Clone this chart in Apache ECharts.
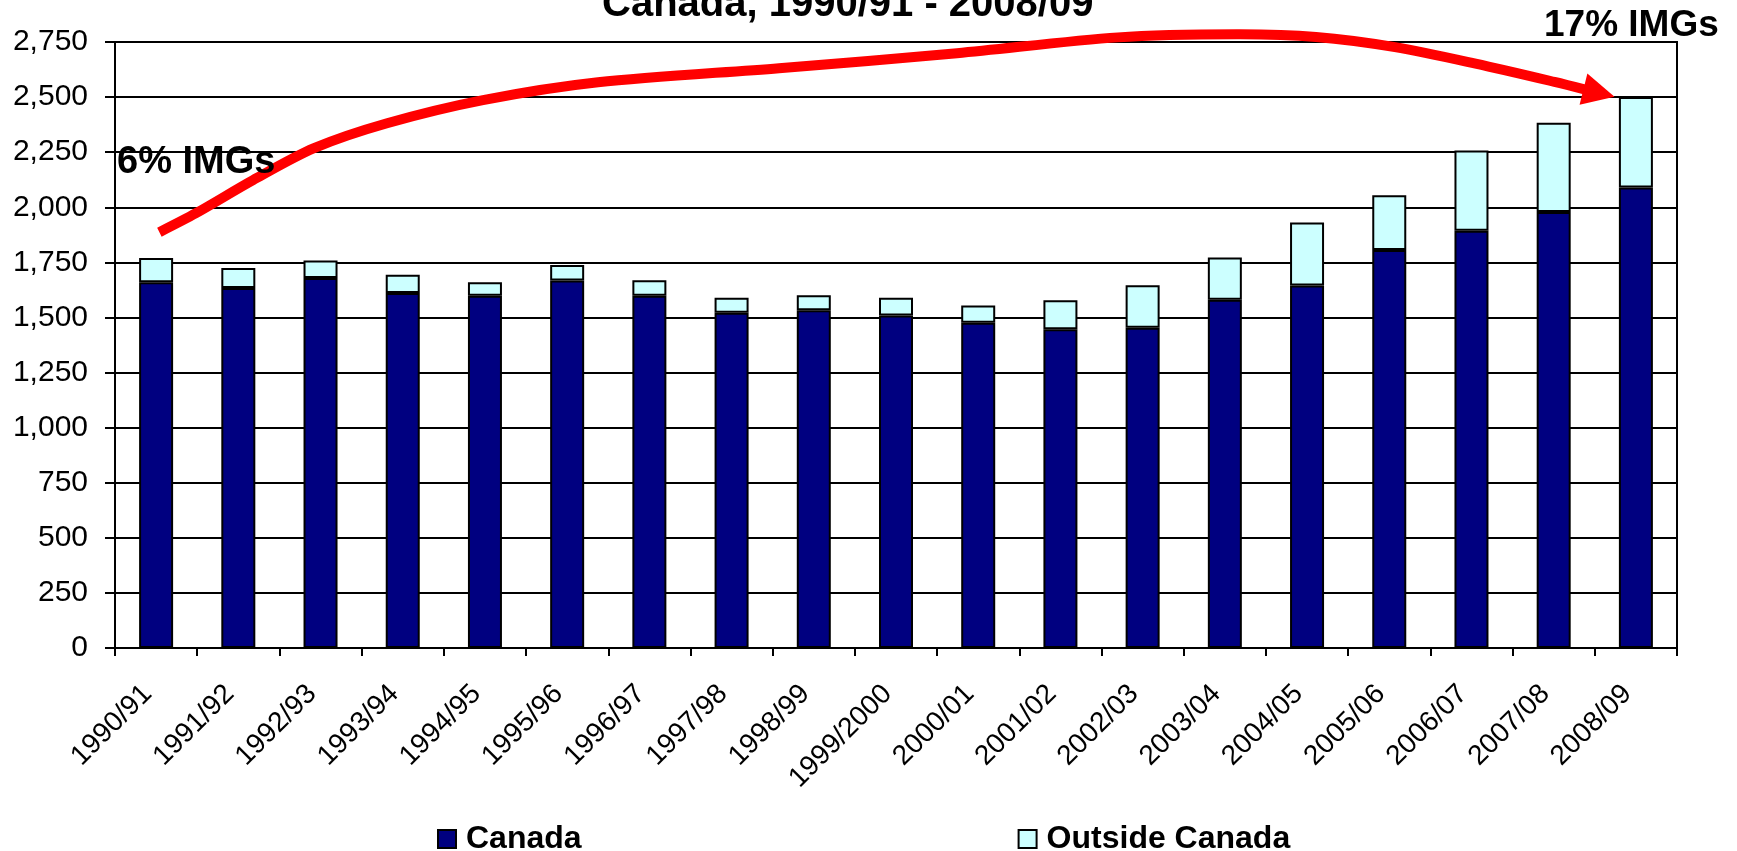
<!DOCTYPE html>
<html>
<head>
<meta charset="utf-8">
<script src="https://cdn.jsdelivr.net/npm/echarts@6/dist/echarts.min.js"></script>
<style>
  html, body { margin: 0; padding: 0; background: #fff; }
  #chart { width: 1737px; height: 851px; }
</style>
</head>
<body>
<div id="chart"></div>
<script>
// ---- data ----
const categories = ['1990/91','1991/92','1992/93','1993/94','1994/95','1995/96','1996/97','1997/98','1998/99','1999/2000','2000/01','2001/02','2002/03','2003/04','2004/05','2005/06','2006/07','2007/08','2008/09'];
const canada  = [1660,1634,1679,1611,1599,1668,1599,1521,1533,1509,1476,1446,1453,1580,1645,1806,1894,1979,2090];
const outside = [110,90,80,83,61,70,70,68,68,80,78,132,193,192,286,248,364,405,410];
const seriesNames = ['Canada', 'Outside Canada'];
const titleText = 'Canada, 1990/91 - 2008/09';
const noteStart = '6% IMGs';
const noteEnd = '17% IMGs';
// arrow path annotation (category position, value)
const arrowCat = [0.04,0.485,1.179,1.921,2.809,3.976,5.375,7.577,9.742,11.70,13.148,14.109,15.07,16.05,17.01,17.74];
const arrowVal = [1887,1973,2123,2268,2381,2486,2567,2631,2699,2771,2785,2773,2727,2652,2569,2501];

const FONT = '"Liberation Sans", Arial, sans-serif';
const chart = echarts.init(document.getElementById('chart'), null, { renderer: 'canvas' });

const option = {
  animation: false,
  backgroundColor: '#ffffff',
  textStyle: { fontFamily: FONT, color: '#000' },
  legend: {
    data: seriesNames,
    left: 432, top: 818,
    itemWidth: 18, itemHeight: 18, itemGap: 436,
    icon: 'rect',
    itemStyle: { borderColor: '#000', borderWidth: 2 },
    textStyle: { fontFamily: FONT, fontSize: 32, fontWeight: 'bold', color: '#000', padding: [0, 0, 0, 5] }
  },
  grid: {
    left: 115, right: 60, top: 42, bottom: 203,
    show: true, borderColor: '#000', borderWidth: 2, backgroundColor: 'transparent',
    containLabel: false
  },
  xAxis: {
    type: 'category',
    data: categories,
    boundaryGap: true,
    axisLine: { lineStyle: { color: '#000', width: 2 } },
    axisTick: { show: true, length: 8, lineStyle: { color: '#000', width: 2 } },
    axisLabel: {
      rotate: 45, fontSize: 28, color: '#000', fontFamily: FONT,
      margin: 33, interval: 0, padding: [0, 12, 0, 0]
    }
  },
  yAxis: {
    type: 'value',
    min: 0, max: 2750, interval: 250,
    axisLine: { show: true, lineStyle: { color: '#000', width: 2 } },
    axisTick: { show: true, length: 10, lineStyle: { color: '#000', width: 2 } },
    splitLine: { show: true, lineStyle: { color: '#000', width: 2 } },
    axisLabel: {
      fontSize: 30, color: '#000', fontFamily: FONT, margin: 27,
      formatter: v => v.toLocaleString('en-US')
    }
  },
  series: [
    {
      name: seriesNames[0], type: 'bar', stack: 'total', data: canada, barWidth: 34,
      itemStyle: { color: '#000080', borderColor: '#000', borderWidth: 2 }
    },
    {
      name: seriesNames[1], type: 'bar', stack: 'total', data: outside, barWidth: 34,
      itemStyle: { color: '#CCFFFF', borderColor: '#000', borderWidth: 2 }
    }
  ]
};
chart.setOption(option);

// ---- annotations: arrow + notes, placed through the axis scales ----
function catPx(c) {
  const p0 = chart.convertToPixel({ xAxisIndex: 0 }, 0);
  const p1 = chart.convertToPixel({ xAxisIndex: 0 }, 1);
  return p0 + (p1 - p0) * c;
}
function valPx(v) { return chart.convertToPixel({ yAxisIndex: 0 }, v); }

const pts = arrowCat.map((c, i) => [catPx(c), valPx(arrowVal[i])]);
const tip = pts[pts.length - 1];
const prev = pts[pts.length - 2];
const dx = tip[0] - prev[0], dy = tip[1] - prev[1];
const len = Math.hypot(dx, dy);
const ux = dx / len, uy = dy / len;
const headLen = 32, headHalf = 16;
const baseX = tip[0] - ux * headLen, baseY = tip[1] - uy * headLen;
const shaft = pts.slice(0, -1).concat([[tip[0] - ux * (headLen - 3), tip[1] - uy * (headLen - 3)]]);

chart.setOption({
  graphic: [
    {
      type: 'polyline', z: 100,
      shape: { points: shaft, smooth: 0.3 },
      style: { stroke: '#ff0000', lineWidth: 10, fill: null, lineCap: 'butt', lineJoin: 'round' }
    },
    {
      type: 'polygon', z: 101,
      shape: { points: [tip, [baseX - uy * headHalf, baseY + ux * headHalf], [baseX + uy * headHalf, baseY - ux * headHalf]] },
      style: { fill: '#ff0000' }
    },
    {
      type: 'text', z: 102, left: 117, top: 144,
      style: { text: noteStart, font: 'bold 38px ' + FONT, fill: '#000' }
    },
    {
      type: 'text', z: 102, left: 1544, top: 7,
      style: { text: noteEnd, font: 'bold 37px ' + FONT, fill: '#000' }
    },
    {
      type: 'text', z: 102, left: 602, top: -15,
      style: { text: titleText, font: 'bold 40px ' + FONT, fill: '#000' }
    }
  ]
});
</script>
</body>
</html>
